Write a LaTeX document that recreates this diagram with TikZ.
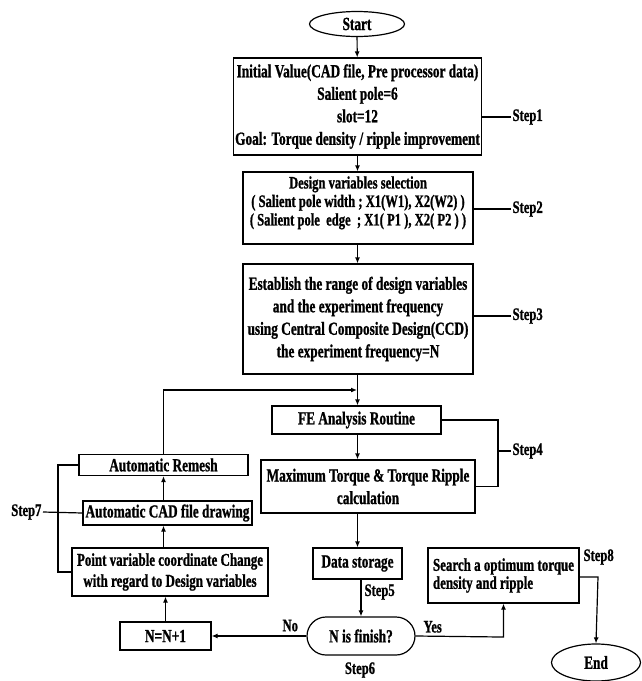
\documentclass[tikz,border=0pt]{standalone}
\usepackage{fontspec}
\setmainfont[FakeStretch=0.72,BoldFeatures={FakeBold=1}]{Liberation Serif}
\usetikzlibrary{arrows.meta}
\usetikzlibrary{shapes.geometric}
\usetikzlibrary{shapes.misc}

\begin{document}
\begin{tikzpicture}[x=1pt,y=-1pt,line width=1.2pt,
  box/.style={draw,inner sep=2pt,align=center,font=\bfseries\fontsize{18.5}{22.5}\selectfont},
  lbl/.style={inner sep=1pt,font=\bfseries\fontsize{17.5}{18}\selectfont},
  arr/.style={-{Latex[length=6pt,width=5pt]}}]
\useasboundingbox (0,0) rectangle (641,681);
% main column
\node[box,ellipse,minimum width=95,minimum height=25,inner sep=0pt] (start) at (357,24) {Start};
\node[box,minimum width=243,minimum height=97] (init) at (357.5,106.5) {Initial Value(CAD file, Pre processor data)\\ Salient pole=6\\ slot=12\\ Goal: Torque density / ripple improvement};
\node[box,minimum width=230,minimum height=72,label={[anchor=north,yshift=-1pt,align=center,font=\bfseries\fontsize{17.5}{18.5}\selectfont]north:{Design variables selection\\ ( Salient pole width ; X1(W1), X2(W2) )\\ ( Salient pole~ edge~ ; X1( P1 ), X2( P2 ) )}}] (design) at (358,208) {};
\node[box,minimum width=230,minimum height=110] (ccd) at (358,319) {Establish the range of design variables\\ and the experiment frequency\\ using Central Composite Design(CCD)\\ the experiment frequency=N};
\node[box,minimum width=169,minimum height=28] (fe) at (356.5,420) {FE Analysis Routine};
\node[box,minimum width=214,minimum height=53] (maxt) at (368,486.5) {Maximum Torque \& Torque Ripple\\ calculation};
\node[box,minimum width=89,minimum height=31] (data) at (357.5,563.5) {Data storage};
\node[box,rounded rectangle,minimum width=112,minimum height=38] (finish) at (361,636) {N is finish?};
% right branch
\node[box,align=left,minimum width=151,minimum height=55,font=\bfseries\fontsize{18}{18}\selectfont] (search) at (503.5,575.5) {Search a optimum torque\\ density and ripple};
\node[box,ellipse,minimum width=89,minimum height=37,inner sep=0pt] (end) at (596,662.5) {End};
% left loop
\node[box,minimum width=91,minimum height=28] (nplus) at (165.5,636) {N=N+1};
\node[box,minimum width=196,minimum height=48,font=\bfseries\fontsize{18}{21}\selectfont] (point) at (170,572) {Point variable coordinate Change\\ with regard to Design variables};
\node[box,minimum width=169,minimum height=24] (cad) at (167.5,513) {Automatic CAD file drawing};
\node[box,minimum width=169,minimum height=21] (remesh) at (163.5,465) {Automatic Remesh};
% step labels
\node[lbl,anchor=west] (s1) at (511,117) {Step1};
\node[lbl,anchor=west] (s2) at (511,209) {Step2};
\node[lbl,anchor=west] (s3) at (511,316) {Step3};
\node[lbl,anchor=west] (s4) at (511,451) {Step4};
\node[lbl,anchor=west] (s5) at (363,592) {Step5};
\node[lbl] (s6) at (360,670) {Step6};
\node[lbl,anchor=east] (s7) at (43,512) {Step7};
\node[lbl,anchor=west] (s8) at (582,557) {Step8};
\coordinate (join) at (357,390);
\coordinate (r4) at (498,451);
\coordinate (yes) at (501,637);
\coordinate (down) at (598,577);
\coordinate (left) at (58,465);
% connectors
\draw[arr] (start) -- (init);
\draw[arr] (init) -- (init.south |- design.north);
\draw[arr] (design.south -| init.south) -- (init.south |- ccd.north);
\draw[arr] (ccd.south -| init.south) -- (init.south |- fe.north);
\draw[arr] (remesh.north) |- (join);
\draw[arr] (fe.south -| init.south) -- (init.south |- maxt.north);
\draw[arr] (data.north |- maxt.south) -- (data.north);
\draw[arr] (finish.north |- data.south) -- (finish.north);
\draw[arr] (finish.west) -- (nplus.east) node[lbl,pos=0.17,above=3pt] (no) {No};
\draw[arr] (finish.east) -- (yes) node[lbl,pos=0.2,above=2pt] (yestxt) {Yes} -- (search.south |- yes) -- (search.south |- search.south);
\draw[arr] (search.east |- down) -- (down) -- (end.north);
\draw[arr] (nplus.north) -- (nplus.north |- point.south);
\draw[arr] (point.north -| remesh.north) -- (remesh.north |- cad.south);
\draw[arr] (cad.north -| remesh.north) -- (remesh.south);
% step brackets
\draw (init.east |- s1) -- (s1.west);
\draw (design.east |- s2) -- (s2.west);
\draw (ccd.east |- s3) -- (s3.west);
\draw (fe.east) -| (r4) |- (maxt.east);
\draw (r4) -- (s4.west);
\draw (remesh.west) -- (left) |- (point.west);
\draw (s7.east) -- (cad.west);
\end{tikzpicture}
\end{document}
